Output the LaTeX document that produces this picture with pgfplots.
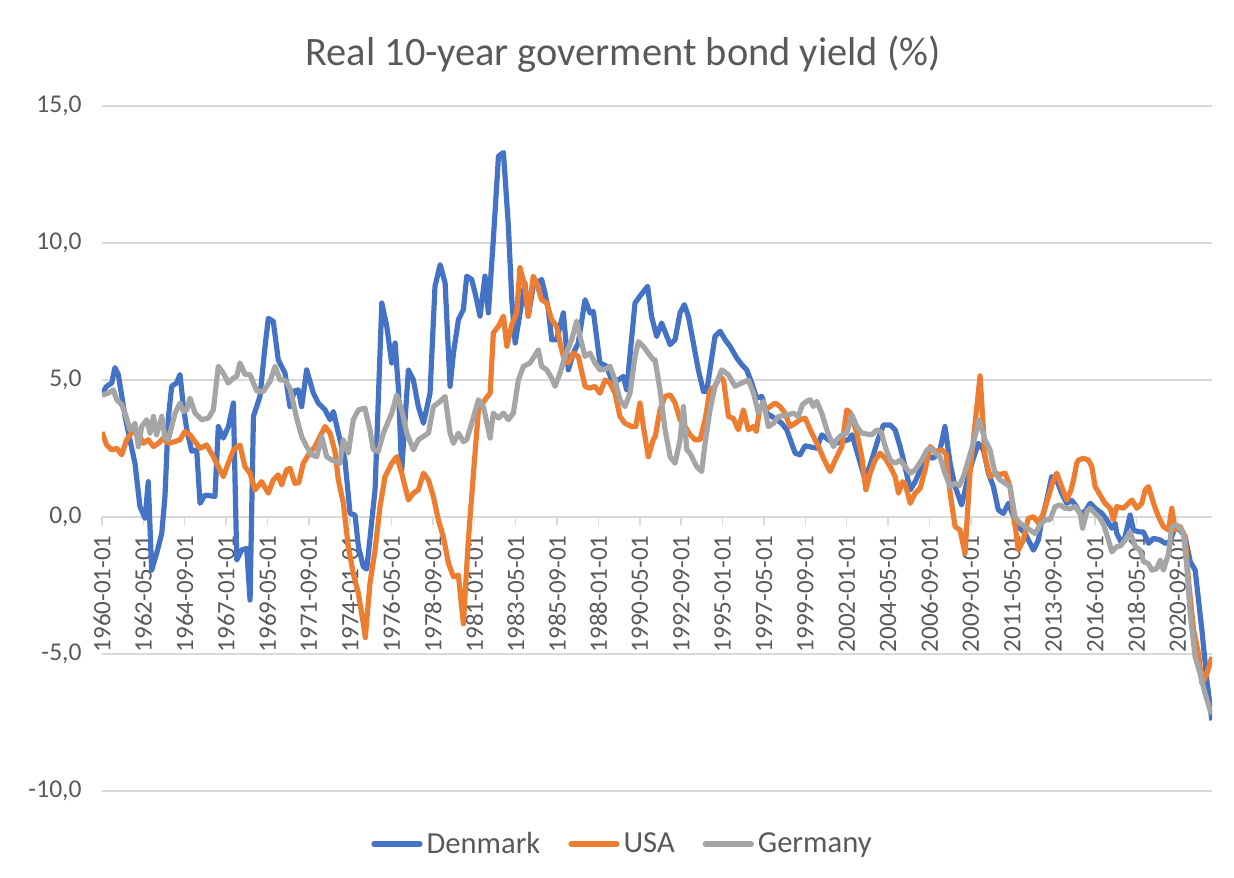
\documentclass[border=0pt]{standalone}
\usepackage{fontspec}
\setmainfont{Carlito}
\usepackage{pgfplots}
\pgfplotsset{compat=1.18}
\definecolor{dk}{HTML}{4472C4}
\definecolor{us}{HTML}{ED7D31}
\definecolor{de}{HTML}{A5A5A5}
\definecolor{txt}{HTML}{595959}
\definecolor{grd}{HTML}{D9D9D9}
\begin{document}
\begin{tikzpicture}
\begin{axis}[
 at={(0,0)}, anchor=south west,
 scale only axis, width=555pt, height=342.5pt,
 xmin=1960, xmax=2022.6, ymin=-10, ymax=15,
 axis x line=middle, axis y line=left,
 y axis line style={draw=none},
 x axis line style={draw=grd, line width=0.75pt, -},
 hide obscured x ticks=false,
 ytick={-10,-5,0,5,10,15},
 yticklabels={{-10,0},{-5,0},{0,0},{5,0},{10,0},{15,0}},
 ymajorgrids, grid style={draw=grd, line width=0.75pt},
 ytick style={draw=none},
 xtick={1960,1962.3333,1964.6667,1967,1969.3333,1971.6667,1974,1976.3333,1978.6667,1981,1983.3333,1985.6667,1988,1990.3333,1992.6667,1995,1997.3333,1999.6667,2002,2004.3333,2006.6667,2009,2011.3333,2013.6667,2016,2018.3333,2020.6667},
 xticklabels={1960-01-01,1962-05-01,1964-09-01,1967-01-01,1969-05-01,1971-09-01,1974-01-01,1976-05-01,1978-09-01,1981-01-01,1983-05-01,1985-09-01,1988-01-01,1990-05-01,1992-09-01,1995-01-01,1997-05-01,1999-09-01,2002-01-01,2004-05-01,2006-09-01,2009-01-01,2011-05-01,2013-09-01,2016-01-01,2018-05-01,2020-09-01},
 xtick style={draw=grd, line width=0.75pt},
 major tick length=4pt, tick align=outside,
 xticklabel style={rotate=90, anchor=east, inner sep=0pt, font=\fontsize{12.5}{14}\selectfont, text=txt},
 xticklabel shift=5pt,
 yticklabel style={anchor=east, inner sep=0pt, font=\fontsize{12.8}{14}\selectfont, text=txt, xshift=-6pt},
 legend style={at={(0.4698,-0.0775)}, anchor=center, legend columns=3, draw=none, fill=none,
   font=\fontsize{15.3}{18}\selectfont, text=txt,
   /tikz/every even column/.append style={column sep=12pt},
   nodes={inner sep=2pt}},
 legend image code/.code={\draw[#1, line cap=round] (0pt,0pt) -- (23pt,0pt);},
 every axis plot/.append style={line width=2.6pt, line join=round},
]
\addplot[dk] table {
1960.00 4.5
1960.26 4.77
1960.55 4.89
1960.73 5.45
1960.92 5.2
1961.30 3.67
1961.58 2.8
1961.86 1.96
1962.14 0.38
1962.43 -0.05
1962.61 1.29
1962.80 -1.94
1963.08 -1.33
1963.37 -0.6
1963.55 0.74
1963.74 3.6
1963.93 4.77
1964.21 4.89
1964.40 5.2
1964.59 4.03
1964.78 3.2
1965.06 2.4
1965.34 2.45
1965.53 0.5
1965.81 0.8
1966.37 0.75
1966.56 3.3
1966.84 2.88
1967.13 3.3
1967.41 4.16
1967.60 -1.57
1967.88 -1.2
1968.16 -1.15
1968.35 -3.03
1968.54 3.67
1968.91 4.4
1969.19 6.2
1969.38 7.25
1969.66 7.14
1969.94 5.74
1970.32 5.25
1970.60 4.03
1970.85 4.6
1971.07 4.64
1971.26 4.03
1971.54 5.37
1971.92 4.52
1972.20 4.16
1972.58 3.91
1972.86 3.55
1973.05 3.85
1973.33 3.06
1973.70 2.08
1973.99 0.13
1974.27 0.07
1974.46 -1.08
1974.74 -1.82
1974.93 -1.9
1975.40 1.0
1975.78 7.81
1976.06 6.96
1976.34 5.62
1976.53 6.35
1976.72 4.64
1976.90 1.7
1977.28 5.37
1977.56 5.0
1977.84 4.03
1978.13 3.42
1978.50 4.52
1978.78 8.42
1979.07 9.21
1979.35 8.54
1979.63 4.77
1979.82 5.98
1980.10 7.2
1980.38 7.57
1980.57 8.79
1980.85 8.67
1981.04 8.18
1981.32 7.33
1981.60 8.79
1981.79 7.45
1982.07 10.13
1982.36 13.17
1982.64 13.3
1982.92 10.6
1983.11 7.93
1983.30 6.35
1983.85 8.54
1984.04 7.33
1984.32 8.42
1984.79 8.67
1984.98 8.18
1985.17 7.57
1985.36 6.47
1985.64 6.47
1986.02 7.45
1986.30 5.37
1986.58 5.98
1986.86 6.35
1987.24 7.93
1987.52 7.45
1987.71 7.5
1988.08 5.62
1988.46 5.5
1988.74 5.0
1989.12 5.0
1989.40 5.13
1989.59 4.64
1990.06 7.81
1990.34 8.06
1990.77 8.42
1990.99 7.33
1991.28 6.59
1991.56 7.08
1992.04 6.29
1992.32 6.47
1992.60 7.45
1992.84 7.75
1993.07 7.32
1993.35 6.35
1993.63 5.37
1993.92 4.58
1994.10 4.58
1994.57 6.59
1994.86 6.78
1995.14 6.47
1995.42 6.23
1995.80 5.8
1996.08 5.56
1996.36 5.37
1996.64 4.89
1996.92 4.34
1997.21 4.4
1997.49 3.79
1997.77 3.67
1998.05 3.55
1998.33 3.42
1998.62 3.18
1999.09 2.33
1999.37 2.27
1999.65 2.6
2000.31 2.51
2000.59 3.0
2000.97 2.82
2001.35 2.69
2001.72 2.75
2002.10 2.82
2002.30 3.0
2002.66 2.2
2003.04 1.35
2003.41 2.08
2003.79 2.88
2004.07 3.36
2004.45 3.36
2004.73 3.18
2005.01 2.57
2005.20 2.08
2005.58 0.99
2005.86 1.29
2006.23 1.84
2006.52 2.33
2006.80 2.14
2006.98 2.2
2007.26 2.45
2007.54 3.3
2007.83 1.96
2008.11 1.11
2008.48 0.44
2008.75 1.2
2009.05 1.96
2009.42 2.69
2009.71 2.45
2009.99 1.6
2010.27 1.11
2010.55 0.26
2010.83 0.13
2011.12 0.5
2011.59 -0.29
2012.06 -0.6
2012.53 -1.21
2012.81 -0.84
2013.00 -0.11
2013.28 0.62
2013.56 1.47
2013.84 1.35
2014.12 0.87
2014.41 0.5
2014.69 0.6
2014.88 0.45
2015.16 0.13
2015.44 0.2
2015.73 0.5
2016.01 0.32
2016.39 0.13
2016.67 -0.11
2016.95 -0.41
2017.14 -0.23
2017.23 -0.6
2017.51 -0.96
2017.70 -0.72
2017.98 0.07
2018.17 -0.48
2018.45 -0.54
2018.74 -0.55
2019.02 -0.96
2019.30 -0.78
2019.68 -0.84
2019.96 -0.96
2020.24 -0.9
2020.52 -0.35
2020.80 -0.48
2021.09 -0.72
2021.37 -1.63
2021.65 -1.94
2022.03 -4.13
2022.31 -5.96
2022.59 -7.42
};
\addlegendentry{Denmark}
\addplot[us] table {
1960.00 3.1
1960.26 2.63
1960.55 2.45
1960.83 2.51
1961.11 2.27
1961.39 2.82
1961.86 3.24
1962.05 3.06
1962.33 2.69
1962.61 2.82
1962.90 2.57
1963.18 2.69
1963.46 2.88
1963.74 2.69
1964.10 2.75
1964.40 2.82
1964.68 3.12
1964.96 3.0
1965.25 2.75
1965.53 2.51
1965.90 2.63
1966.28 2.2
1966.56 1.84
1966.84 1.47
1967.12 1.96
1967.41 2.45
1967.78 2.63
1968.06 1.84
1968.35 1.6
1968.63 0.99
1969.00 1.29
1969.38 0.87
1969.66 1.35
1969.94 1.54
1970.13 1.17
1970.41 1.72
1970.60 1.78
1970.88 1.23
1971.10 1.25
1971.35 1.96
1971.64 2.27
1972.01 2.57
1972.39 3.06
1972.58 3.3
1972.86 3.06
1973.14 2.39
1973.33 1.35
1973.61 0.5
1973.89 -1.08
1974.17 -2.06
1974.46 -2.79
1974.74 -3.9
1974.85 -4.4
1975.11 -2.43
1975.40 -1.2
1975.68 0.38
1975.96 1.47
1976.34 1.96
1976.62 2.2
1976.90 1.6
1977.28 0.62
1977.56 0.87
1977.84 0.99
1978.13 1.6
1978.41 1.35
1978.69 0.74
1978.97 -0.11
1979.25 -0.72
1979.54 -1.69
1979.82 -2.18
1980.10 -2.12
1980.38 -3.9
1980.66 -0.84
1980.95 1.6
1981.23 3.91
1981.60 4.28
1981.89 4.52
1982.07 6.72
1982.36 6.96
1982.64 7.33
1982.83 6.23
1983.11 7.02
1983.39 7.45
1983.57 9.1
1983.85 8.42
1984.04 7.33
1984.32 8.79
1984.51 8.54
1984.79 7.93
1985.08 7.81
1985.36 7.2
1985.64 6.96
1985.83 6.35
1986.02 5.86
1986.30 5.62
1986.58 5.98
1986.86 5.86
1987.24 4.77
1987.52 4.7
1987.80 4.77
1988.08 4.52
1988.37 5.0
1988.65 4.89
1988.93 4.52
1989.21 3.67
1989.49 3.42
1989.87 3.30
1990.10 3.3
1990.34 4.16
1990.53 3.3
1990.81 2.2
1991.09 2.82
1991.20 2.94
1991.47 3.91
1991.75 4.4
1992.04 4.46
1992.32 4.16
1992.60 3.55
1992.88 3.30
1993.16 3.0
1993.45 2.82
1993.73 2.82
1994.01 3.55
1994.29 4.64
1994.57 4.77
1994.86 5.13
1995.05 5.0
1995.33 3.67
1995.60 3.6
1995.89 3.18
1996.17 3.91
1996.45 3.18
1996.74 3.3
1996.90 3.12
1997.11 4.03
1997.39 3.91
1997.68 4.03
1997.96 4.16
1998.24 4.03
1998.52 3.79
1998.80 3.3
1999.09 3.42
1999.37 3.55
1999.65 3.61
2000.03 3.06
2000.41 2.57
2000.69 2.14
2001.06 1.66
2001.35 2.08
2001.72 2.57
2002.00 3.91
2002.20 3.8
2002.57 3.06
2002.85 2.2
2003.08 0.99
2003.32 1.6
2003.60 2.08
2003.88 2.33
2004.17 2.14
2004.45 1.84
2004.73 1.47
2004.92 0.87
2005.14 1.29
2005.30 1.2
2005.58 0.5
2005.86 0.87
2006.14 1.05
2006.42 1.72
2006.70 2.57
2006.99 2.4
2007.36 2.45
2007.60 2.3
2007.83 0.87
2008.11 -0.35
2008.39 -0.48
2008.67 -1.33
2008.95 1.6
2009.24 3.42
2009.52 5.15
2009.80 2.2
2010.08 1.47
2010.36 1.6
2010.65 1.55
2010.93 1.6
2011.21 1.11
2011.40 0.13
2011.68 -1.21
2011.96 -0.84
2012.24 -0.05
2012.53 0.01
2012.81 -0.23
2013.09 0.13
2013.37 0.74
2013.66 1.35
2013.84 1.6
2014.12 1.11
2014.41 0.62
2014.65 0.99
2014.79 1.35
2014.97 1.96
2015.07 2.08
2015.35 2.14
2015.63 2.08
2015.82 1.84
2016.01 1.11
2016.29 0.8
2016.57 0.5
2016.86 0.32
2017.04 -0.11
2017.23 0.38
2017.61 0.32
2018.08 0.62
2018.36 0.32
2018.64 0.5
2018.83 0.99
2019.02 1.11
2019.30 0.5
2019.58 0.01
2019.86 -0.35
2020.15 -0.48
2020.33 0.32
2020.52 -0.48
2020.80 -0.35
2021.09 -0.72
2021.27 -2.3
2021.56 -4.13
2021.84 -4.99
2022.03 -6.08
2022.31 -5.72
2022.59 -5.11
};
\addlegendentry{USA}
\addplot[de] table {
1960.00 4.45
1960.36 4.52
1960.64 4.64
1960.83 4.28
1961.11 4.1
1961.30 3.79
1961.58 3.18
1961.86 3.42
1962.05 2.57
1962.24 3.3
1962.52 3.55
1962.71 3.06
1962.90 3.67
1963.08 3.0
1963.37 3.67
1963.55 2.9
1963.74 2.82
1964.12 3.79
1964.40 4.16
1964.59 3.85
1964.78 3.91
1964.96 4.34
1965.25 3.79
1965.62 3.55
1966.00 3.61
1966.28 3.91
1966.56 5.5
1966.84 5.25
1967.12 4.89
1967.41 5.07
1967.60 5.13
1967.78 5.62
1968.07 5.2
1968.35 5.2
1968.72 4.6
1969.10 4.58
1969.48 4.95
1969.76 5.5
1970.04 5.0
1970.32 5.0
1970.60 4.7
1970.98 3.6
1971.26 2.94
1971.54 2.57
1971.82 2.27
1972.11 2.2
1972.39 2.94
1972.67 2.2
1972.95 2.08
1973.42 1.96
1973.61 2.82
1973.89 2.33
1974.17 3.55
1974.46 3.91
1974.83 3.97
1975.11 3.18
1975.30 2.45
1975.58 2.39
1975.87 3.06
1976.34 3.79
1976.62 4.45
1976.90 3.91
1977.19 3.06
1977.56 2.45
1977.84 2.82
1978.13 2.94
1978.41 3.06
1978.69 4.03
1979.07 4.22
1979.35 4.4
1979.63 3.06
1979.82 2.69
1980.10 3.06
1980.38 2.75
1980.57 2.82
1980.85 3.42
1981.23 4.28
1981.51 4.03
1981.89 2.88
1982.07 3.79
1982.36 3.61
1982.64 3.79
1982.92 3.55
1983.20 3.79
1983.48 5.0
1983.77 5.5
1984.14 5.62
1984.61 6.1
1984.79 5.5
1985.08 5.37
1985.36 5.07
1985.55 4.77
1985.83 5.25
1986.11 5.86
1986.49 6.47
1986.77 7.15
1986.96 6.59
1987.24 5.86
1987.52 5.98
1987.80 5.62
1988.08 5.37
1988.40 5.4
1988.65 5.5
1988.93 5.0
1989.21 4.28
1989.49 4.03
1989.78 4.52
1990.06 5.86
1990.25 6.4
1990.53 6.23
1990.81 5.98
1991.09 5.74
1991.19 5.74
1991.47 4.64
1991.75 3.2
1992.04 2.2
1992.32 1.96
1992.60 2.82
1992.79 4.03
1992.98 2.45
1993.16 2.33
1993.54 1.84
1993.82 1.66
1994.01 2.69
1994.29 3.91
1994.57 4.77
1994.95 5.37
1995.33 5.19
1995.70 4.77
1996.08 4.89
1996.45 5.0
1996.74 4.52
1997.02 3.79
1997.30 4.22
1997.58 3.3
1997.87 3.42
1998.15 3.67
1998.71 3.73
1998.99 3.79
1999.27 3.67
1999.50 4.1
1999.80 4.25
1999.94 4.28
2000.12 4.03
2000.31 4.22
2000.59 3.79
2000.88 3.18
2001.25 2.57
2001.44 2.82
2001.72 3.0
2002.00 3.06
2002.29 3.73
2002.57 3.3
2002.85 3.06
2003.41 3.0
2003.70 3.18
2003.95 3.1
2004.17 2.57
2004.45 2.08
2004.73 1.96
2005.01 2.08
2005.29 1.84
2005.58 1.6
2005.86 1.72
2006.23 2.08
2006.52 2.45
2006.80 2.51
2007.00 2.33
2007.26 2.2
2007.54 1.6
2007.83 1.11
2008.11 1.23
2008.35 1.15
2008.58 1.47
2008.86 2.08
2009.14 2.69
2009.46 3.55
2009.80 2.82
2010.08 2.45
2010.36 1.6
2010.65 1.35
2010.93 1.23
2011.21 1.11
2011.49 0.01
2011.77 -0.23
2012.06 -0.35
2012.34 -0.48
2012.62 -0.6
2012.90 -0.29
2013.18 -0.11
2013.46 -0.1
2013.75 0.38
2014.03 0.44
2014.31 0.32
2014.59 0.3
2014.88 0.38
2015.16 0.13
2015.30 -0.41
2015.54 0.2
2015.73 0.32
2016.01 0.13
2016.29 -0.05
2016.50 -0.3
2016.76 -0.84
2016.95 -1.27
2017.23 -1.08
2017.45 -1.05
2017.70 -0.84
2017.98 -0.54
2018.27 -1.08
2018.55 -1.21
2018.74 -1.63
2019.00 -1.7
2019.21 -1.94
2019.49 -1.88
2019.68 -1.57
2019.86 -1.94
2020.15 -1.33
2020.33 -0.35
2020.62 -0.29
2020.80 -0.41
2020.99 -0.6
2021.18 -1.82
2021.37 -3.52
2021.65 -5.11
2021.93 -5.72
2022.21 -6.45
2022.50 -7.06
2022.59 -7.18
};
\addlegendentry{Germany}
\end{axis}
\node[anchor=base, font=\fontsize{20.2}{24}\selectfont, text=txt] at (260.5pt,362.5pt) {Real 10-year goverment bond yield (\%)};
\pgfresetboundingbox
\path[use as bounding box] (-51pt,-43pt) rectangle (566pt,395.5pt);
\end{tikzpicture}
\end{document}
